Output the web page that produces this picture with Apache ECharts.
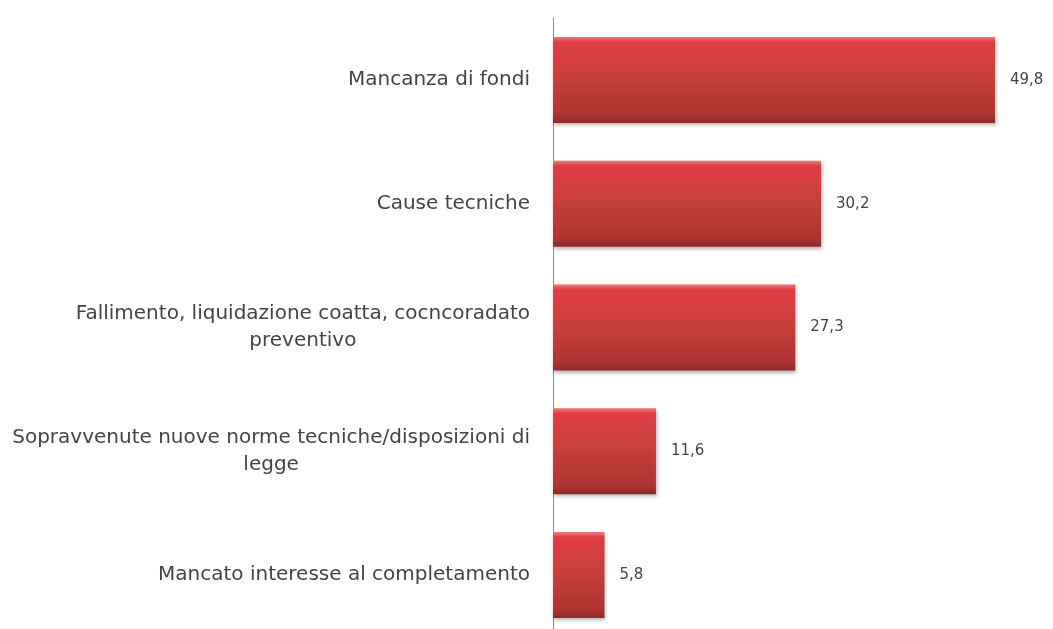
<!DOCTYPE html>
<html>
<head>
<meta charset="utf-8">
<script src="https://cdn.jsdelivr.net/npm/echarts@6/dist/echarts.min.js"></script>
<style>html,body{margin:0;padding:0;background:#fff;overflow:hidden}#c{width:1100px;height:660px}</style>
</head>
<body>
<div id="c"></div>
<script>
const categories = [
  'Mancanza di fondi',
  'Cause tecniche',
  'Fallimento, liquidazione coatta, cocncoradato\npreventivo',
  'Sopravvenute nuove norme tecniche/disposizioni di\nlegge',
  'Mancato interesse al completamento'
];
const values = [49.8, 30.2, 27.3, 11.6, 5.8];

const chart = echarts.init(document.getElementById('c'));
chart.setOption({
  animation: false,
  backgroundColor: '#fff',
  grid: { left: 553, top: 18, width: 532.5, height: 619, containLabel: false },
  xAxis: { type: 'value', min: 0, max: 60, show: false },
  yAxis: {
    type: 'category', data: categories, inverse: true,
    axisLine: { show: true, lineStyle: { color: '#8c8c8c', width: 1 } },
    axisTick: { show: false },
    axisLabel: {
      margin: 23, align: 'right',
      formatter: v => '{a|' + v + '}',
      rich: { a: { align: 'center', fontFamily: 'DejaVu Sans', fontSize: 20, color: '#444444', lineHeight: 27 } }
    }
  },
  series: [{
    type: 'bar', data: values, barWidth: '69.5%',
    itemStyle: {
      color: new echarts.graphic.LinearGradient(0, 0, 0, 1, [
        { offset: 0, color: '#f07a78' },
        { offset: 0.06, color: '#df3d44' },
        { offset: 0.45, color: '#c9403a' },
        { offset: 0.9, color: '#ae3432' },
        { offset: 1, color: '#8e2a2c' }
      ]),
      shadowColor: 'rgba(0,0,0,0.3)', shadowBlur: 4, shadowOffsetX: 1, shadowOffsetY: 2
    },
    label: {
      show: true, position: 'right', distance: 15,
      fontFamily: 'DejaVu Sans', fontSize: 15, color: '#444444',
      formatter: p => String(p.value).replace('.', ',')
    }
  }]
});
</script>
</body>
</html>
